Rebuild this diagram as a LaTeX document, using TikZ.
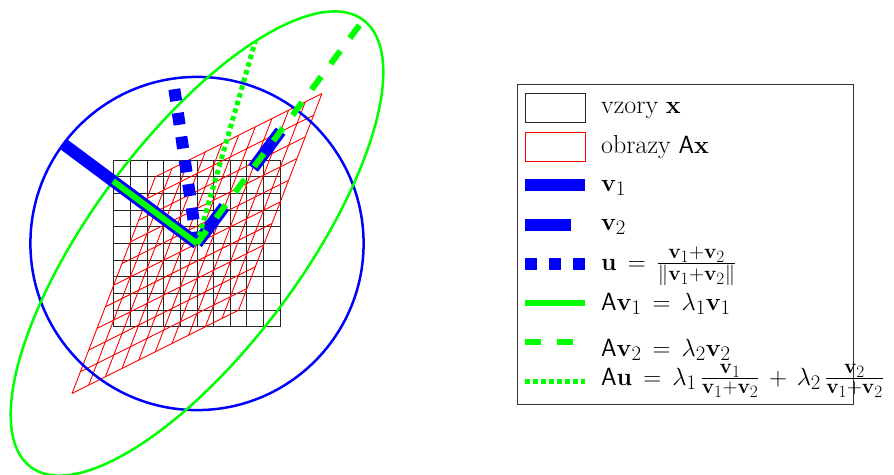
\documentclass[tikz,border=0pt]{standalone}
\usepackage{amsmath}
\DeclareMathSizes{26}{26}{22}{16}
\newcommand\lgsp{\thickmuskip=8mu\relax\medmuskip=7mu\relax}
\begin{document}
\begin{tikzpicture}[x=1pt,y=-1pt,
  gridline/.style={black!85, line width=1pt},
  imgline/.style={red, line width=0.9pt},
  vone/.style={blue, line width=12pt},
  vtwo/.style={blue, line width=12pt, dash pattern=on 46pt off 48pt},
  uvec/.style={blue, line width=12pt, dash pattern=on 12pt off 12pt},
  avone/.style={green, line width=6pt},
  avtwo/.style={green, line width=6pt, dash pattern=on 16pt off 16pt},
  auvec/.style={green, line width=5pt, dash pattern=on 4.5pt off 3.5pt},
  legtext/.style={anchor=base west, inner sep=0pt,
    font=\fontsize{26}{30}\selectfont}]
\useasboundingbox (0,0) rectangle (894,474);
\begin{scope}[shift={(197,243.5)}, x=83.3pt, y=83.3pt]
  \foreach \i in {-5,...,5} {
    \draw[gridline] (\i/5,-1) -- (\i/5,1);
    \draw[gridline] (-1,\i/5) -- (1,\i/5);
  }
  \begin{scope}[cm={1,0.5,0.5,1.3,(0,0)}]
    \foreach \i in {-5,...,5} {
      \draw[imgline] (\i/5,-1) -- (\i/5,1);
      \draw[imgline] (-1,\i/5) -- (1,\i/5);
    }
  \end{scope}
  \draw[blue, line width=2.5pt] (0,0) circle (2);
  \draw[green, line width=2.5pt, cm={1,0.5,0.5,1.3,(0,0)}] (0,0) circle (2);
  \coordinate (O) at (0,0);
  \coordinate (V1) at (-1.604,1.194);
  \coordinate (V2) at (1.194,1.604);
  \coordinate (U) at (-0.290,1.978);
  \coordinate (AV1) at (-1.007,0.750);
  \coordinate (AV2) at (1.996,2.682);
  \coordinate (AU) at (0.699,2.426);
  \draw[vone] (O) -- (V1);
  \draw[vtwo] (O) -- (V2);
  \draw[uvec] (O) -- (U);
  \draw[avone] (O) -- (AV1);
  \draw[avtwo] (O) -- (AV2);
  \draw[auvec] (O) -- (AU);
\end{scope}
% legend
\draw[black!80, line width=1pt] (517,84) rectangle (853,404);
\draw[gridline] (525,93) rectangle (585,122);
\draw[imgline] (525,132) rectangle (585,161);
\coordinate (l3a) at (525,185.3); \coordinate (l3b) at (585,185.3);
\coordinate (l4a) at (525,224.7); \coordinate (l4b) at (585,224.7);
\coordinate (l5a) at (525,263.7); \coordinate (l5b) at (585,263.7);
\coordinate (l6a) at (525,303);   \coordinate (l6b) at (585,303);
\coordinate (l7a) at (525,342);   \coordinate (l7b) at (585,342);
\coordinate (l8a) at (525,381);   \coordinate (l8b) at (585,381);
\draw[vone] (l3a) -- (l3b);
\draw[vtwo] (l4a) -- (l4b);
\draw[uvec] (l5a) -- (l5b);
\draw[avone] (l6a) -- (l6b);
\draw[avtwo] (l7a) -- (l7b);
\draw[auvec] (l8a) -- (l8b);
\node[legtext] (t1) at (601,113) {vzory $\mathbf{x}$};
\node[legtext] (t2) at (601,153) {obrazy $\mathsf{A}\mathbf{x}$};
\node[legtext] (t3) at (601,191) {$\mathbf{v}_1$};
\node[legtext] (t4) at (601,230) {$\mathbf{v}_2$};
\node[legtext] (t5) at (601,270) {\lgsp$\mathbf{u} = \frac{\mathbf{v}_1+\mathbf{v}_2}{\|\mathbf{v}_1+\mathbf{v}_2\|}$};
\node[legtext] (t6) at (601,310) {\lgsp$\mathsf{A}\mathbf{v}_1 = \lambda_1\mathbf{v}_1$};
\node[legtext] (t7) at (601,356) {\lgsp$\mathsf{A}\mathbf{v}_2 = \lambda_2\mathbf{v}_2$};
\node[legtext] (t8) at (601,385) {\lgsp$\mathsf{A}\mathbf{u} = \lambda_1\,\frac{\mathbf{v}_1}{\mathbf{v}_1+\mathbf{v}_2} + \lambda_2\,\frac{\mathbf{v}_2}{\mathbf{v}_1+\mathbf{v}_2}$};
\end{tikzpicture}
\end{document}
